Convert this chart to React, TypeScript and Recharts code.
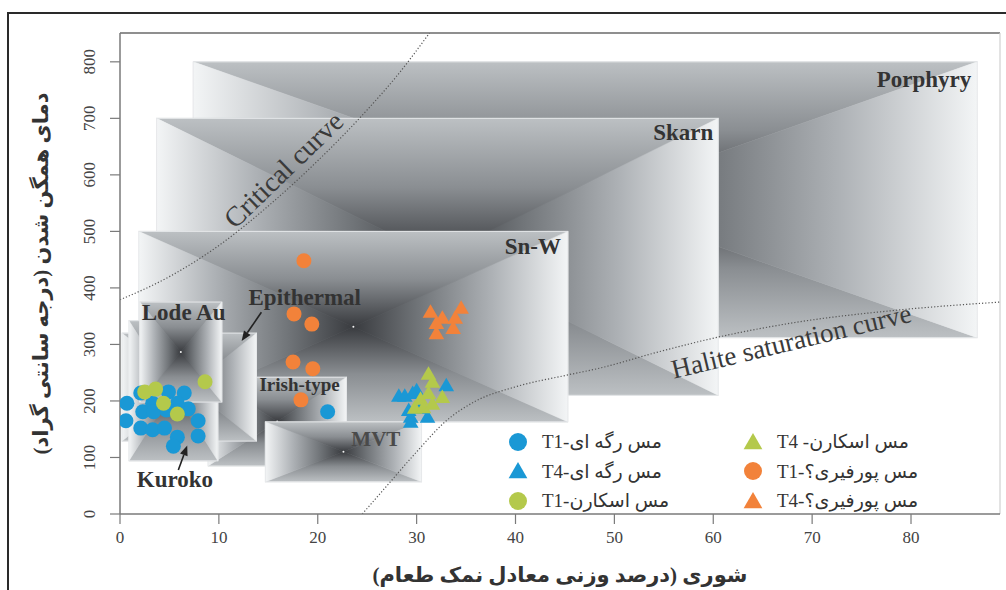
import { FC } from "react";
import {
  ComposedChart,
  XAxis,
  YAxis,
  Scatter,
  Line,
  Legend,
  ReferenceArea,
  ReferenceDot,
  ReferenceLine,
} from "recharts";

// axes: salinity (wt% NaCl eq.) vs homogenization temperature (°C)
const xTicks = [0, 10, 20, 30, 40, 50, 60, 70, 80];
const yTicks = [0, 100, 200, 300, 400, 500, 600, 700, 800];
const xDomain = [0, 89];
const yDomain = [0, 851];

const xTitle = "شوری (درصد وزنی معادل نمک طعام)";
const yTitle = "دمای همگن شدن (درجه سانتی گراد)";

// fluid inclusion measurements
const veinT1 = [
  { x: 0.7, y: 196 }, { x: 0.6, y: 165 }, { x: 2.1, y: 214 }, { x: 2.3, y: 181 },
  { x: 2.1, y: 152 }, { x: 3.3, y: 196 }, { x: 3.4, y: 181 }, { x: 3.3, y: 149 },
  { x: 4.5, y: 152 }, { x: 4.9, y: 216 }, { x: 4.7, y: 184 }, { x: 6.5, y: 214 },
  { x: 6.9, y: 186 }, { x: 7.9, y: 165 }, { x: 7.9, y: 138 }, { x: 5.8, y: 136 },
  { x: 5.4, y: 120 }, { x: 5.8, y: 196 }, { x: 21.0, y: 181 },
];
const veinT4 = [
  { x: 33.0, y: 228 }, { x: 28.2, y: 209 }, { x: 28.8, y: 209 }, { x: 30.0, y: 219 },
  { x: 29.6, y: 214 }, { x: 30.4, y: 188 }, { x: 29.2, y: 184 }, { x: 29.4, y: 172 },
  { x: 31.1, y: 172 }, { x: 29.4, y: 163 },
];
const skarnT1 = [
  { x: 2.5, y: 216 }, { x: 3.6, y: 221 }, { x: 4.4, y: 196 }, { x: 5.8, y: 177 },
  { x: 8.6, y: 234 },
];
const skarnT4 = [
  { x: 31.2, y: 248 }, { x: 31.6, y: 234 }, { x: 31.2, y: 214 }, { x: 32.6, y: 207 },
  { x: 30.4, y: 204 }, { x: 29.8, y: 188 }, { x: 30.7, y: 189 }, { x: 31.6, y: 195 },
];
const porphyryT1 = [
  { x: 18.6, y: 448 }, { x: 17.6, y: 354 }, { x: 19.4, y: 336 }, { x: 17.5, y: 269 },
  { x: 19.5, y: 257 }, { x: 18.3, y: 202 },
];
const porphyryT4 = [
  { x: 31.4, y: 358 }, { x: 32.6, y: 347 }, { x: 34.5, y: 365 }, { x: 33.9, y: 347 },
  { x: 32.0, y: 338 }, { x: 33.7, y: 329 }, { x: 32.0, y: 320 },
];

// NaCl-H2O reference curves
const criticalCurve = [
  { x: 0, y: 379 }, { x: 5, y: 420 }, { x: 10, y: 475 }, { x: 15, y: 545 },
  { x: 20, y: 625 }, { x: 25, y: 715 }, { x: 28, y: 775 }, { x: 31.3, y: 851 },
];
const haliteCurve = [
  { x: 24.5, y: 0 }, { x: 27, y: 50 }, { x: 30, y: 110 }, { x: 33, y: 165 },
  { x: 36, y: 200 }, { x: 40, y: 225 }, { x: 45, y: 245 }, { x: 48.5, y: 258 },
  { x: 54.5, y: 287 }, { x: 60.5, y: 313 }, { x: 68.7, y: 340 }, { x: 78.8, y: 361 },
  { x: 89, y: 375 },
];

// deposit-type fields, back to front
const depositFields = [
  { name: "Porphyry", x1: 7.4, x2: 86.7, y1: 312, y2: 800 },
  { name: "Skarn", x1: 3.7, x2: 60.5, y1: 210, y2: 700 },
  { name: "Sn-W", x1: 1.9, x2: 45.3, y1: 163, y2: 500 },
  { name: "Irish-type", x1: 8.9, x2: 22.9, y1: 85, y2: 242 },
  { name: "MVT", x1: 14.7, x2: 30.5, y1: 57, y2: 163 },
  { name: "Epithermal", x1: 0.2, x2: 13.8, y1: 129, y2: 320 },
  { name: "Kuroko", x1: 0.9, x2: 9.9, y1: 94, y2: 342 },
  { name: "Lode Au", x1: 2.0, x2: 10.3, y1: 198, y2: 375 },
];

// where each field name is written
const fieldLabels = [
  { text: "Porphyry", x: 86.1, y: 756, anchor: "end", size: 23 },
  { text: "Skarn", x: 60.0, y: 661, anchor: "end", size: 23 },
  { text: "Sn-W", x: 44.6, y: 460, anchor: "end", size: 23 },
  { text: "Epithermal", x: 13.0, y: 370, anchor: "start", size: 23 },
  { text: "Lode Au", x: 2.2, y: 343, anchor: "start", size: 23 },
  { text: "Irish-type", x: 14.1, y: 218, anchor: "start", size: 19 },
  { text: "MVT", x: 23.4, y: 120, anchor: "start", size: 21 },
  { text: "Kuroko", x: 1.7, y: 48, anchor: "start", size: 23 },
];

const pointerArrows = [
  { from: { x: 14.3, y: 357 }, to: { x: 12.3, y: 306 } },
  { from: { x: 5.9, y: 78 }, to: { x: 6.8, y: 121 } },
];

const BLUE = "#1a98d5";
const GREEN = "#b4c94b";
const ORANGE = "#f2823a";

type Marker = "circle" | "triangle";
type Series = { name: string; data: { x: number; y: number }[]; color: string; marker: Marker };

const series: Series[] = [
  { name: "مس رگه ای-T1", data: veinT1, color: BLUE, marker: "circle" },
  { name: "مس رگه ای-T4", data: veinT4, color: BLUE, marker: "triangle" },
  { name: "مس اسکارن-T1", data: skarnT1, color: GREEN, marker: "circle" },
  { name: "مس اسکارن- T4", data: skarnT4, color: GREEN, marker: "triangle" },
  { name: "مس پورفیری؟-T1", data: porphyryT1, color: ORANGE, marker: "circle" },
  { name: "مس پورفیری؟-T4", data: porphyryT4, color: ORANGE, marker: "triangle" },
];

const SERIF = "'Liberation Serif', 'Times New Roman', serif";
const PERSIAN = "'Liberation Serif', 'DejaVu Sans', sans-serif";

const drawMarker = (marker: Marker, color: string, cx: number, cy: number, s = 1) =>
  marker === "circle" ? (
    <circle cx={cx} cy={cy} r={7.5 * s} fill={color} />
  ) : (
    <polygon
      points={`${cx},${cy - 7.5 * s} ${cx - 7.8 * s},${cy + 6 * s} ${cx + 7.8 * s},${cy + 6 * s}`}
      fill={color}
    />
  );

// "rectangular" gradient: four triangles meeting in the centre of the box,
// the side pieces fade to near white, the top/bottom pieces stay a bit greyer
const SIDE_STOPS: [number, string][] = [
  [0, "#f3f5f6"],
  [0.35, "#aeb2b6"],
  [0.7, "#707478"],
  [1, "#393b3f"],
];
const CAP_STOPS: [number, string][] = [
  [0, "#bcc0c3"],
  [0.5, "#8a8e92"],
  [1, "#393b3f"],
];

const PyramidBox: FC<any> = ({ x, y, width, height, gid }) => {
  if (!(width > 0) || !(height > 0)) return null;
  const cx = x + width / 2;
  const cy = y + height / 2;
  const r = x + width;
  const b = y + height;
  const parts = [
    { k: "t", pts: `${x},${y} ${r},${y} ${cx},${cy}`, g: [cx, y, cx, cy], stops: CAP_STOPS },
    { k: "b", pts: `${x},${b} ${r},${b} ${cx},${cy}`, g: [cx, b, cx, cy], stops: CAP_STOPS },
    { k: "l", pts: `${x},${y} ${x},${b} ${cx},${cy}`, g: [x, cy, cx, cy], stops: SIDE_STOPS },
    { k: "r", pts: `${r},${y} ${r},${b} ${cx},${cy}`, g: [r, cy, cx, cy], stops: SIDE_STOPS },
  ];
  return (
    <g>
      <defs>
        {parts.map((p) => (
          <linearGradient
            key={p.k}
            id={`${gid}-${p.k}`}
            gradientUnits="userSpaceOnUse"
            x1={p.g[0]}
            y1={p.g[1]}
            x2={p.g[2]}
            y2={p.g[3]}
          >
            {p.stops.map(([o, c]) => (
              <stop key={o} offset={o} stopColor={c} />
            ))}
          </linearGradient>
        ))}
      </defs>
      {parts.map((p) => (
        <polygon
          key={p.k}
          points={p.pts}
          fill={`url(#${gid}-${p.k})`}
          stroke={`url(#${gid}-${p.k})`}
          strokeWidth={0.6}
        />
      ))}
      <rect x={x} y={y} width={width} height={height} fill="none" stroke="#e6e8ea" strokeWidth={1} />
      <circle cx={cx} cy={cy} r={1} fill="#f4f4f4" />
    </g>
  );
};

const ArrowShape: FC<any> = ({ x1, y1, x2, y2 }) => {
  const a = Math.atan2(y2 - y1, x2 - x1);
  const len = 10;
  const w = 4;
  const bx = x2 - len * Math.cos(a);
  const by = y2 - len * Math.sin(a);
  const nx = -Math.sin(a) * w;
  const ny = Math.cos(a) * w;
  return (
    <g>
      <line x1={x1} y1={y1} x2={bx} y2={by} stroke="#222" strokeWidth={1.6} />
      <polygon points={`${x2},${y2} ${bx + nx},${by + ny} ${bx - nx},${by - ny}`} fill="#222" />
    </g>
  );
};

const XTick: FC<any> = ({ x, y, payload }) => (
  <text x={x} y={y + 17} textAnchor="middle" fill="#444" fontSize={17} fontFamily={SERIF}>
    {payload.value}
  </text>
);

const YTick: FC<any> = ({ x, y, payload }) => (
  <text
    x={x - 13}
    y={y}
    transform={`rotate(-90 ${x - 13} ${y})`}
    textAnchor="middle"
    fill="#444"
    fontSize={17}
    fontFamily={SERIF}
  >
    {payload.value}
  </text>
);

const XTitle: FC<any> = ({ viewBox }) => (
  <text
    x={viewBox.x + viewBox.width / 2}
    y={viewBox.y + 68}
    textAnchor="middle"
    direction="rtl"
    fill="#333"
    fontSize={21}
    fontWeight="bold"
    fontFamily={PERSIAN}
  >
    {xTitle}
  </text>
);

const YTitle: FC<any> = ({ viewBox }) => {
  const cx = viewBox.x + 48;
  const cy = viewBox.y + viewBox.height / 2;
  return (
    <text
      x={cx}
      y={cy}
      transform={`rotate(-90 ${cx} ${cy})`}
      textAnchor="middle"
      direction="rtl"
      fill="#333"
      fontSize={21}
      fontWeight="bold"
      fontFamily={PERSIAN}
    >
      {yTitle}
    </text>
  );
};

const renderLegend = () => (
  <div
    style={{
      display: "grid",
      gridAutoFlow: "column",
      gridTemplateRows: "repeat(3, 29.5px)",
      gridTemplateColumns: "235px 215px",
    }}
  >
    {series.map((s) => (
      <div key={s.name} style={{ display: "flex", alignItems: "center" }}>
        <svg width={20} height={20} style={{ flex: "none" }}>
          {drawMarker(s.marker, s.color, 10, 10, 1.2)}
        </svg>
        <span
          dir="rtl"
          style={{ marginLeft: 14, fontFamily: PERSIAN, fontSize: 19, color: "#333", whiteSpace: "nowrap" }}
        >
          {s.name}
        </span>
      </div>
    ))}
  </div>
);

export default function App() {
  return (
    <div
      style={{
        position: "absolute",
        left: 0,
        top: 0,
        width: 1006,
        height: 590,
        background: "#fff",
        overflow: "hidden",
      }}
    >
      <div
        style={{
          position: "absolute",
          left: 7,
          top: 12,
          width: 1010,
          height: 600,
          borderLeft: "2px solid #2a2a2a",
          borderTop: "2px solid #2a2a2a",
        }}
      />
      <div style={{ position: "absolute", left: 0, top: 0 }}>
        <ComposedChart width={1006} height={590} margin={{ top: 33, right: 6, bottom: 0, left: 0 }}>
          <XAxis
            type="number"
            dataKey="x"
            domain={xDomain}
            ticks={xTicks}
            allowDataOverflow
            height={76}
            tickSize={10}
            tick={<XTick />}
            axisLine={{ stroke: "#7a7a7a", strokeWidth: 1.5 }}
            tickLine={{ stroke: "#7a7a7a", strokeWidth: 1.2 }}
            label={<XTitle />}
          />
          <YAxis
            type="number"
            dataKey="y"
            domain={yDomain}
            ticks={yTicks}
            allowDataOverflow
            width={120}
            tickSize={10}
            tick={<YTick />}
            axisLine={{ stroke: "#7a7a7a", strokeWidth: 1.5 }}
            tickLine={{ stroke: "#7a7a7a", strokeWidth: 1.2 }}
            label={<YTitle />}
          />

          {depositFields.map((f, i) => (
            <ReferenceArea
              key={f.name}
              x1={f.x1}
              x2={f.x2}
              y1={f.y1}
              y2={f.y2}
              ifOverflow="visible"
              shape={(p: any) => <PyramidBox {...p} gid={`field-${i}`} />}
            />
          ))}

          <ReferenceLine y={851} stroke="#6a6a6a" strokeWidth={1.5} ifOverflow="visible" />
          <ReferenceLine x={89} stroke="#d0d0d0" strokeWidth={1.2} ifOverflow="visible" />

          <Line
            data={criticalCurve}
            dataKey="y"
            type="monotone"
            stroke="#555"
            strokeWidth={1.2}
            strokeDasharray="1.2 2"
            dot={false}
            activeDot={false}
            legendType="none"
            isAnimationActive={false}
          />
          <Line
            data={haliteCurve}
            dataKey="y"
            type="monotone"
            stroke="#555"
            strokeWidth={1.2}
            strokeDasharray="1.2 2"
            dot={false}
            activeDot={false}
            legendType="none"
            isAnimationActive={false}
          />

          {fieldLabels.map((l) => (
            <ReferenceDot
              key={l.text}
              x={l.x}
              y={l.y}
              ifOverflow="visible"
              shape={(p: any) => (
                <text
                  x={p.cx}
                  y={p.cy}
                  textAnchor={l.anchor}
                  fill={l.text === "MVT" ? "#4a4a4a" : "#333"}
                  fontSize={l.size}
                  fontWeight="bold"
                  fontFamily={SERIF}
                >
                  {l.text}
                </text>
              )}
            />
          ))}

          <ReferenceDot
            x={17.2}
            y={597}
            ifOverflow="visible"
            shape={(p: any) => (
              <text
                x={p.cx}
                y={p.cy}
                transform={`rotate(-44 ${p.cx} ${p.cy})`}
                textAnchor="middle"
                fill="#3a3a3a"
                fontSize={28}
                fontFamily={SERIF}
              >
                Critical curve
              </text>
            )}
          />
          <ReferenceDot
            x={68.1}
            y={290}
            ifOverflow="visible"
            shape={(p: any) => (
              <text
                x={p.cx}
                y={p.cy}
                transform={`rotate(-13.5 ${p.cx} ${p.cy})`}
                textAnchor="middle"
                fill="#3a3a3a"
                fontSize={27}
                fontFamily={SERIF}
              >
                Halite saturation curve
              </text>
            )}
          />

          {pointerArrows.map((a, i) => (
            <ReferenceLine key={i} segment={[a.from, a.to]} ifOverflow="visible" shape={<ArrowShape />} />
          ))}

          {series.map((s) => (
            <Scatter
              key={s.name}
              name={s.name}
              data={s.data}
              fill={s.color}
              isAnimationActive={false}
              shape={(p: any) => drawMarker(s.marker, s.color, p.cx, p.cy)}
            />
          ))}

          <Legend
            verticalAlign="middle"
            align="center"
            layout="horizontal"
            content={renderLegend}
            wrapperStyle={{ left: 508, top: 427, width: 460, height: 90 }}
          />
        </ComposedChart>
      </div>
    </div>
  );
}
